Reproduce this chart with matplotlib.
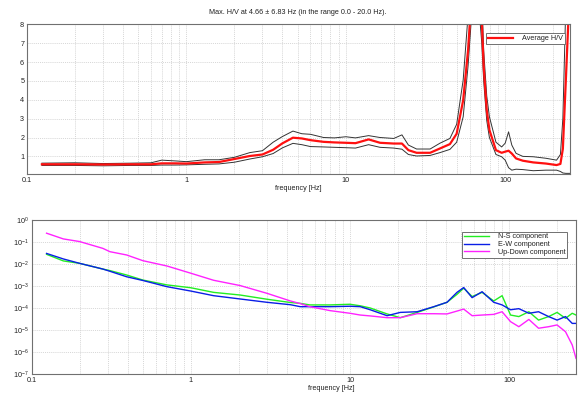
import numpy as np
import matplotlib
matplotlib.use("Agg")
import matplotlib.pyplot as plt
from matplotlib.ticker import LogLocator, FixedLocator, NullFormatter

# H/V curve (average and +/- std curves)
f_hv = [0.124, 0.2, 0.3, 0.45, 0.6, 0.7, 0.85, 1.0, 1.3, 1.6, 2.0, 2.5, 3.0, 3.5, 4.0, 4.66,
        5.3, 6.0, 7.25, 8.5, 10, 11.5, 13.9, 16.4, 20, 22.5, 24.7, 27.8, 33.8, 39, 45, 49.6,
        54.5, 58.5, 61, 65, 69, 71.3, 73.3, 76.6, 79.6, 87.5, 95, 100, 105, 110, 117, 129,
        150, 180, 210, 222, 230, 240, 250, 260]
hv_avg = [0.58, 0.58, 0.57, 0.58, 0.58, 0.63, 0.63, 0.62, 0.68, 0.7, 0.86, 1.02, 1.1, 1.35, 1.69, 1.99,
          1.95, 1.86, 1.77, 1.74, 1.72, 1.7, 1.9, 1.72, 1.68, 1.68, 1.33, 1.19, 1.19, 1.42, 1.65, 2.2,
          3.98, 6.64, 9, 11, 10, 8.2, 5.75, 3.45, 2.4, 1.33, 1.19, 1.25, 1.3, 1.15, 0.89, 0.77,
          0.68, 0.62, 0.54, 0.6, 1.4, 5.0, 8.5, 10]
hv_up = [0.64, 0.66, 0.62, 0.64, 0.66, 0.8, 0.76, 0.72, 0.82, 0.82, 0.95, 1.2, 1.3, 1.75, 2.05, 2.34,
         2.2, 2.17, 2.0, 1.98, 2.04, 1.98, 2.1, 2.0, 1.95, 2.14, 1.6, 1.39, 1.39, 1.7, 1.95, 2.7,
         5.05, 8.5, 11, 13, 12, 9.5, 6.6, 4.2, 3.1, 1.75, 1.5, 1.7, 2.3, 1.6, 1.16, 1.0,
         0.98, 0.9, 0.8, 1.1, 3.0, 9, 12, 14]
hv_low = [0.52, 0.52, 0.5, 0.52, 0.52, 0.54, 0.54, 0.55, 0.58, 0.6, 0.69, 0.86, 0.98, 1.15, 1.45, 1.69,
          1.62, 1.52, 1.5, 1.48, 1.46, 1.44, 1.62, 1.48, 1.44, 1.38, 1.1, 1.02, 1.05, 1.2, 1.37, 1.75,
          3.1, 5.8, 8, 9.5, 8.5, 7.0, 5.0, 2.9, 2.0, 1.1, 0.98, 0.8, 0.4, 0.27, 0.32, 0.3,
          0.24, 0.27, 0.27, 0.2, 0.12, 0.1, 0.1, 0.1]

# spectra, log10 of amplitude
f_sp = [0.124, 0.158, 0.2, 0.28, 0.31, 0.395, 0.5, 0.707, 1.0, 1.39, 2.04, 3.0, 4.22, 4.87, 5.6,
        7.5, 10, 11.6, 13.4, 17.1, 20.7, 26.4, 33.6, 40.7, 47, 51.8, 58.5, 67.6, 80, 90.3, 102,
        115, 133, 153, 177, 200, 226, 249, 263]
ns_log = [-1.56, -1.86, -1.97, -2.23, -2.3, -2.5, -2.73, -2.95, -3.08, -3.29, -3.41, -3.6, -3.75, -3.79, -3.86,
          -3.86, -3.83, -3.9, -4.0, -4.27, -4.44, -4.2, -3.95, -3.74, -3.38, -3.1, -3.48, -3.29, -3.68, -3.44, -4.32,
          -4.39, -4.17, -4.55, -4.39, -4.2, -4.47, -4.24, -4.32]
ew_log = [-1.52, -1.77, -1.97, -2.23, -2.33, -2.58, -2.75, -3.03, -3.23, -3.44, -3.59, -3.74, -3.85, -3.94, -3.94,
          -3.94, -3.92, -3.94, -4.08, -4.35, -4.2, -4.17, -3.94, -3.74, -3.29, -3.07, -3.53, -3.26, -3.74, -3.86, -4.08,
          -4.03, -4.24, -4.17, -4.39, -4.55, -4.39, -4.7, -4.7]
ud_log = [-0.6, -0.86, -0.98, -1.29, -1.44, -1.59, -1.85, -2.09, -2.42, -2.74, -2.98, -3.33, -3.68, -3.8, -3.94,
          -4.12, -4.24, -4.32, -4.36, -4.44, -4.44, -4.26, -4.26, -4.27, -4.14, -4.05, -4.35, -4.32, -4.29, -4.17, -4.62,
          -4.85, -4.52, -4.92, -4.85, -4.77, -5.08, -5.68, -6.29]

title = "Max. H/V at 4.66 \u00b1 6.83 Hz (in the range 0.0 - 20.0 Hz)."

plt.rcParams['font.family'] = ['Liberation Sans', 'DejaVu Sans']
fs = 5.2
txt = '#222222'
grid_kw = dict(color='#c8c8c8', linestyle=(0, (1.5, 1.5)), linewidth=0.5)

fig = plt.figure(figsize=(5.84, 3.94), dpi=100)

def style(ax):
    for s in ax.spines.values():
        s.set_color('#707070')
        s.set_linewidth(0.8)
    ax.tick_params(which='both', length=0, labelsize=fs, colors=txt, pad=2)
    ax.grid(True, which='major', **grid_kw)
    ax.grid(True, which='minor', axis='x', **grid_kw)

# top: H/V
ax1 = fig.add_axes([27 / 584, 1 - 174.3 / 394, 543 / 584, 150 / 394])
ax1.set_xscale('log')
ax1.plot(f_hv, hv_up, color='#333333', lw=0.7)
ax1.plot(f_hv, hv_low, color='#333333', lw=0.7)
ax1.plot(f_hv, hv_avg, color='#ff1010', lw=1.6, label='Average H/V')
ax1.set_xlim(0.1, 255)
ax1.set_ylim(0.05, 8)
ax1.yaxis.set_major_locator(FixedLocator([1, 2, 3, 4, 5, 6, 7, 8]))
ax1.xaxis.set_major_locator(FixedLocator([0.1, 1, 10, 100]))
ax1.xaxis.set_minor_locator(LogLocator(subs=np.arange(2, 10)))
ax1.xaxis.set_minor_formatter(NullFormatter())
ax1.set_xticklabels(['0.1', '1', '10', '100'])
style(ax1)
leg1 = ax1.legend(loc='upper right', bbox_to_anchor=(0.99, 0.94), fontsize=fs, fancybox=False,
                  edgecolor='#707070', framealpha=1, borderpad=0.25, handlelength=3.5,
                  handletextpad=1.2, borderaxespad=0)
leg1.get_frame().set_linewidth(0.7)
for t in leg1.get_texts():
    t.set_color(txt)

# bottom: spectra
ax2 = fig.add_axes([31.7 / 584, 1 - 374 / 394, 544.3 / 584, 154 / 394])
ax2.set_xscale('log')
ax2.set_yscale('log')
ax2.plot(f_sp, 10 ** np.array(ns_log), color='#22ee22', lw=1.0, label='N-S component')
ax2.plot(f_sp, 10 ** np.array(ew_log), color='#0a1ee6', lw=1.0, label='E-W component')
ax2.plot(f_sp, 10 ** np.array(ud_log), color='#ff22ff', lw=1.0, label='Up-Down component')
ax2.set_xlim(0.1, 263)
ax2.set_ylim(1e-7, 1)
ax2.yaxis.set_major_locator(LogLocator(numticks=10))
ax2.yaxis.set_minor_locator(FixedLocator([]))
ax2.xaxis.set_major_locator(FixedLocator([0.1, 1, 10, 100]))
ax2.xaxis.set_minor_locator(LogLocator(subs=np.arange(2, 10)))
ax2.xaxis.set_minor_formatter(NullFormatter())
ax2.set_xticklabels(['0.1', '1', '10', '100'])
style(ax2)
leg2 = ax2.legend(loc='upper right', bbox_to_anchor=(0.9835, 0.925), fontsize=fs, fancybox=False,
                  edgecolor='#707070', framealpha=1, borderpad=0.25, handlelength=3.5,
                  handletextpad=1.2, borderaxespad=0, labelspacing=0.1)
leg2.get_frame().set_linewidth(0.7)
for t in leg2.get_texts():
    t.set_color(txt)

fig.text(298 / 584, 1 - 13 / 394, title, ha='center', va='center', fontsize=fs, color=txt)
fig.text(298 / 584, 1 - 188 / 394, 'frequency [Hz]', ha='center', va='center', fontsize=fs, color=txt)
fig.text(331 / 584, 1 - 388 / 394, 'frequency [Hz]', ha='center', va='center', fontsize=fs, color=txt)
fig.text(582 / 584, 1 - 98 / 394, 'H / V', ha='left', va='center', rotation=270, fontsize=fs, color=txt)
fig.text(583 / 584, 1 - 298 / 394, 'amplitude', ha='left', va='center', rotation=270, fontsize=fs, color=txt)

fig.savefig('out.png', dpi=100)
